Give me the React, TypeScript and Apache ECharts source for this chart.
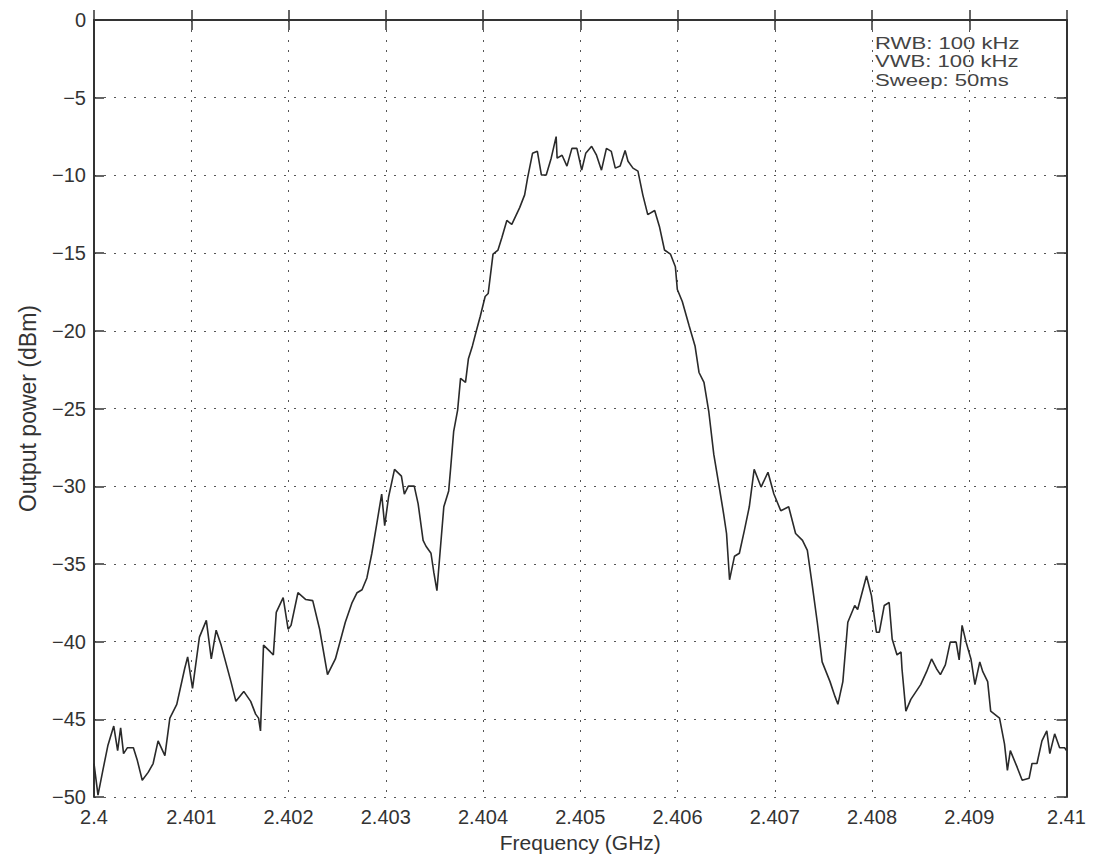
import React, { useEffect, useRef } from "react";
import * as echarts from "echarts";

// Frequency (GHz)
const freqs: number[] = [
  2.4, 2.400041, 2.400091, 2.400142, 2.400203, 2.400243, 2.400274, 2.400304, 2.400344, 2.400405,
  2.400446, 2.400496, 2.400557, 2.400608, 2.400659, 2.400729, 2.40078, 2.400851, 2.400932, 2.400963,
  2.401013, 2.401084, 2.401155, 2.401206, 2.401256, 2.401307, 2.401408, 2.401459, 2.40154, 2.401611,
  2.401662, 2.401692, 2.401712, 2.401743, 2.401814, 2.401844, 2.401874, 2.401945, 2.401996, 2.402026,
  2.402097, 2.402178, 2.402249, 2.40232, 2.402401, 2.402482, 2.402584, 2.402654, 2.402705, 2.402756,
  2.402806, 2.402857, 2.402908, 2.402958, 2.402989, 2.403029, 2.40309, 2.403161, 2.403191, 2.403232,
  2.403293, 2.403333, 2.403384, 2.403414, 2.403465, 2.403495, 2.403526, 2.403566, 2.403597, 2.403647,
  2.403668, 2.403698, 2.403739, 2.403769, 2.40382, 2.40385, 2.403891, 2.403931, 2.403972, 2.404022,
  2.404053, 2.404103, 2.404154, 2.404195, 2.404245, 2.404296, 2.404377, 2.404428, 2.404458, 2.404509,
  2.404559, 2.4046, 2.40465, 2.404701, 2.404752, 2.404762, 2.404813, 2.404863, 2.404914, 2.404965,
  2.405015, 2.405056, 2.405117, 2.405167, 2.405218, 2.405269, 2.405319, 2.40536, 2.40541, 2.405461,
  2.405491, 2.405542, 2.405593, 2.405643, 2.405694, 2.405765, 2.405816, 2.405866, 2.405927, 2.405978,
  2.405998, 2.406049, 2.40612, 2.40618, 2.406221, 2.406272, 2.406322, 2.406373, 2.406424, 2.406474,
  2.406504, 2.406535, 2.406586, 2.406636, 2.406687, 2.406738, 2.406788, 2.406859, 2.40693, 2.406991,
  2.407062, 2.407143, 2.407214, 2.407285, 2.407335, 2.407386, 2.407437, 2.407487, 2.407568, 2.407619,
  2.407649, 2.4077, 2.407751, 2.407822, 2.407852, 2.407943, 2.407994, 2.408045, 2.408075, 2.408126,
  2.408176, 2.408207, 2.408257, 2.408298, 2.408308, 2.408348, 2.408399, 2.4085, 2.408561, 2.408612,
  2.408663, 2.408703, 2.408754, 2.408804, 2.408865, 2.408896, 2.408926, 2.408967, 2.409017, 2.409058,
  2.409108, 2.409139, 2.409189, 2.40922, 2.409311, 2.409362, 2.409392, 2.409422, 2.409493, 2.409544,
  2.409615, 2.409645, 2.409696, 2.409747, 2.409797, 2.409828, 2.409878, 2.409929, 2.40998, 2.41,
];

// Output power (dBm)
const power: number[] = [
  -47.84, -49.87, -48.28, -46.7, -45.43, -47.01, -45.55, -47.2, -46.82, -46.82,
  -47.65, -48.92, -48.41, -47.84, -46.38, -47.33, -44.92, -44.03, -41.74, -40.98,
  -43.01, -39.71, -38.63, -41.11, -39.26, -40.22, -42.57, -43.84, -43.2, -43.84,
  -44.66, -44.92, -45.74, -40.22, -40.66, -40.85, -38.12, -37.17, -39.2, -38.95,
  -36.85, -37.29, -37.36, -39.2, -42.12, -41.11, -38.75, -37.48, -36.85, -36.66,
  -35.9, -34.31, -32.4, -30.5, -32.53, -30.69, -28.91, -29.35, -30.5, -29.99,
  -29.99, -31.13, -33.48, -33.86, -34.31, -35.58, -36.72, -33.67, -31.32, -30.3,
  -28.78, -26.49, -25.1, -23.06, -23.32, -21.79, -20.97, -20.01, -19.06, -17.79,
  -17.6, -15.06, -14.8, -13.98, -12.9, -13.15, -12.07, -11.25, -10.17, -8.58,
  -8.45, -9.97, -9.97, -8.89, -7.5, -8.89, -8.7, -9.4, -8.26, -8.26,
  -9.66, -8.58, -8.13, -8.7, -9.66, -8.26, -8.45, -9.53, -9.4, -8.39,
  -9.09, -9.53, -9.72, -11.25, -12.52, -12.26, -13.34, -14.8, -15.06, -15.88,
  -17.34, -18.11, -19.69, -20.97, -22.68, -23.32, -25.22, -27.95, -29.86, -31.77,
  -33.04, -36.02, -34.5, -34.31, -32.85, -31.32, -28.91, -30.05, -29.1, -30.5,
  -31.58, -31.32, -33.04, -33.48, -34.12, -36.4, -38.75, -41.3, -42.57, -43.52,
  -44.03, -42.57, -38.75, -37.67, -37.93, -35.77, -37.04, -39.39, -39.39, -37.67,
  -37.48, -39.83, -40.85, -40.66, -41.74, -44.47, -43.71, -42.76, -41.93, -41.11,
  -41.74, -42.12, -41.49, -40.03, -40.03, -41.17, -38.95, -40.03, -41.11, -42.76,
  -41.3, -41.93, -42.57, -44.47, -44.92, -46.57, -48.28, -47.01, -48.09, -48.92,
  -48.79, -47.84, -47.84, -46.38, -45.74, -47.2, -45.93, -46.82, -46.82, -47.0,
];

const annotations: string[] = ["RWB: 100 kHz", "VWB: 100 kHz", "Sweep: 50ms"];

const FONT = "'Liberation Sans', Arial, sans-serif";
const AXIS_COLOR = "#333";
const GRID_COLOR = "#555";

export default function App() {
  const ref = useRef<HTMLDivElement>(null);

  useEffect(() => {
    if (!ref.current) return;
    const chart = echarts.init(ref.current, null, { renderer: "svg" });
    const data = freqs.map((f, i) => [f, power[i]]);

    const xFmt = (v: number) => String(parseFloat(v.toFixed(3)));
    const yFmt = (v: number) => (v < 0 ? "\u2212" + String(-v) : String(v));

    const gridDotted = {
      show: true,
      lineStyle: { color: GRID_COLOR, width: 1, type: [2, 8] as number[] },
    };
    const axisLine = { show: true, lineStyle: { color: AXIS_COLOR, width: 2 } };
    const tick = { show: true, inside: true, length: 10, lineStyle: { color: AXIS_COLOR, width: 1.5 } };

    chart.setOption({
      animation: false,
      backgroundColor: "#fff",
      grid: { left: 80, right: 14, top: 12, bottom: 51, containLabel: false },
      xAxis: [
        {
          type: "value",
          min: 2.4,
          max: 2.41,
          interval: 0.001,
          position: "bottom",
          axisLine,
          axisTick: tick,
          splitLine: gridDotted,
          axisLabel: {
            formatter: xFmt,
            color: "#333",
            fontSize: 20,
            fontFamily: FONT,
            margin: 10,
          },
          name: "Frequency (GHz)",
          nameLocation: "middle",
          nameGap: 34,
          nameTextStyle: { color: "#333", fontSize: 21, fontFamily: FONT },
        },
        {
          type: "value",
          min: 2.4,
          max: 2.41,
          interval: 0.001,
          position: "top",
          axisLine,
          axisTick: tick,
          splitLine: { show: false },
          axisLabel: { show: false },
        },
      ],
      yAxis: [
        {
          type: "value",
          min: -50,
          max: 0,
          interval: 5,
          position: "left",
          axisLine,
          axisTick: tick,
          splitLine: gridDotted,
          axisLabel: {
            formatter: yFmt,
            color: "#333",
            fontSize: 20,
            fontFamily: FONT,
            margin: 8,
          },
          name: "Output power (dBm)",
          nameLocation: "middle",
          nameGap: 55,
          nameRotate: 90,
          nameTextStyle: { color: "#333", fontSize: 23, fontFamily: FONT },
        },
        {
          type: "value",
          min: -50,
          max: 0,
          interval: 5,
          position: "right",
          axisLine,
          axisTick: tick,
          splitLine: { show: false },
          axisLabel: { show: false },
        },
      ],
      graphic: annotations.map((t, i) => ({
        type: "text",
        x: 867,
        y: 26 + i * 18.5,
        scaleX: 1.3,
        style: {
          text: t,
          fill: "#444",
          fontSize: 17,
          fontFamily: FONT,
          verticalAlign: "top",
        },
        z: 10,
      })),
      series: [
        {
          type: "line",
          data,
          xAxisIndex: 0,
          yAxisIndex: 0,
          showSymbol: false,
          symbol: "none",
          lineStyle: { color: "#2a2a2a", width: 1.6 },
          z: 5,
        },
      ],
    });

    return () => chart.dispose();
  }, []);

  return <div ref={ref} style={{ width: 1081, height: 850 }} />;
}
